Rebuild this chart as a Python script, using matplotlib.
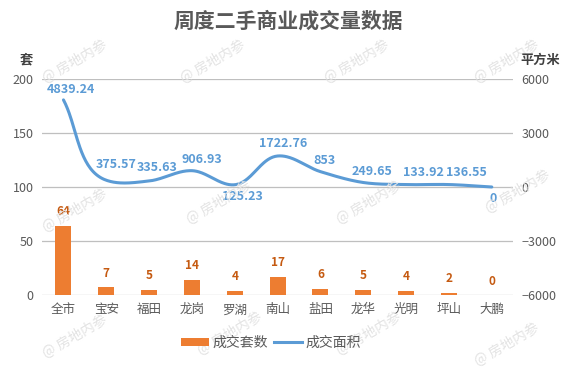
import numpy as np
import matplotlib
matplotlib.use('Agg')
import matplotlib.pyplot as plt
from matplotlib.lines import Line2D
from matplotlib.patches import Patch

plt.rcParams['font.family'] = ['Noto Sans CJK SC', 'DejaVu Sans']

districts = ['全市', '宝安', '福田', '龙岗', '罗湖', '南山', '盐田', '龙华', '光明', '坪山', '大鹏']
units = [64, 7, 5, 14, 4, 17, 6, 5, 4, 2, 0]
area = [4839.24, 375.57, 335.63, 906.93, 125.23, 1722.76, 853, 249.65, 133.92, 136.55, 0]
area_labels = ['4839.24', '375.57', '335.63', '906.93', '125.23', '1722.76', '853',
               '249.65', '133.92', '136.55', '0']

# label placement (pixels): x shift and vertical offset of the text centre
label_dx = [7, 10, 8, 10, 8, 5, 4, 9, 17, 17, 1]
label_dy = [10, 16, 13, 11, -12, 12, 11, 11, 12, 12, -12]

bar_color = '#ED7D31'
line_color = '#5B9BD5'
text_color = '#595959'
grid_color = '#BFBFBF'

W, H, DPI = 5.76, 3.83, 100
ax_rect = [0.073, 0.2298, 0.818, 0.5639]


def smooth(x, y, sx, sy, n=40):
    # smoothed line: bezier handles a third of the segment long, tangent
    # leaning towards the shorter neighbouring segment (pixel space)
    P = np.column_stack([np.asarray(x, float) * sx, np.asarray(y, float) * sy])
    m = len(P)
    seg_len = np.hypot(*(np.diff(P, axis=0).T))
    units_v = np.diff(P, axis=0) / seg_len[:, None]
    tang = np.zeros_like(P)
    tang[0] = units_v[0]
    tang[-1] = units_v[-1]
    for i in range(1, m - 1):
        d = units_v[i - 1] * seg_len[i] + units_v[i] * seg_len[i - 1]
        tang[i] = d / np.hypot(*d)
    t = np.linspace(0, 1, n)[:, None]
    out = []
    for i in range(m - 1):
        p1, p2 = P[i], P[i + 1]
        L = seg_len[i]
        c1 = p1 + tang[i] * L / 3
        c2 = p2 - tang[i + 1] * L / 3
        seg = (1 - t) ** 3 * p1 + 3 * (1 - t) ** 2 * t * c1 + 3 * (1 - t) * t ** 2 * c2 + t ** 3 * p2
        out.append(seg)
    out = np.vstack(out)
    return out[:, 0] / sx, out[:, 1] / sy


fig = plt.figure(figsize=(W, H), dpi=DPI)
ax = fig.add_axes(ax_rect)
x = np.arange(len(districts))

ax.bar(x, units, 0.375, color=bar_color, zorder=3)
for xi, v in zip(x, units):
    ax.annotate(str(v), (xi, v), xytext=(0, 10), textcoords='offset points',
                ha='center', va='center', fontsize=8.5, fontweight='bold',
                color='#C55A11', zorder=5)

ax.set_ylim(0, 200)
ax.set_yticks(np.arange(0, 201, 50))
ax.set_xlim(-0.5, len(districts) - 0.5)
ax.set_xticks(x)
ax.set_xticklabels(districts)
ax.yaxis.grid(True, color=grid_color, lw=0.9, zorder=0)
ax.tick_params(axis='both', length=0, labelsize=9, colors=text_color)
ax.tick_params(axis='x', pad=6)
ax.tick_params(axis='y', pad=6)
for s in ax.spines.values():
    s.set_visible(False)

ax2 = ax.twinx()
ax2.set_ylim(-6000, 6000)
ax2.set_yticks(np.arange(-6000, 6001, 3000))
ax2.tick_params(axis='y', length=0, labelsize=9, colors=text_color, pad=6)
for s in ax2.spines.values():
    s.set_visible(False)

px_per_x = ax_rect[2] * W * DPI / len(districts)
px_per_y = ax_rect[3] * H * DPI / 12000
cx, cy = smooth(x, area, px_per_x, px_per_y)
ax2.plot(cx, cy, color=line_color, lw=2.2, solid_capstyle='round', zorder=4)
for xi, v, lab, dx, dy in zip(x, area, area_labels, label_dx, label_dy):
    ax2.annotate(lab, (xi, v), xytext=(dx * 0.72, dy * 0.72),
                 textcoords='offset points', ha='center', va='center',
                 fontsize=9, fontweight='bold', color=line_color, zorder=6)

fig.text(0.5, 0.945, '周度二手商业成交量数据', ha='center', va='center',
         fontsize=15, fontweight='bold', color=text_color)
fig.text(0.045, 0.845, '套', ha='center', va='center', fontsize=9.5,
         fontweight='bold', color='#404040')
fig.text(0.938, 0.845, '平方米', ha='center', va='center', fontsize=9.5,
         fontweight='bold', color='#404040')

# watermark
for wx, wy in [(0.13, 0.84), (0.37, 0.84), (0.62, 0.84), (0.88, 0.84),
               (0.13, 0.45), (0.38, 0.47), (0.64, 0.47), (0.90, 0.50),
               (0.13, 0.12), (0.40, 0.13), (0.64, 0.13), (0.88, 0.10)]:
    fig.text(wx, wy, '@ 房地内参', rotation=30, ha='center', va='center',
             fontsize=10, color='#E3E3E3', zorder=0)

handles = [Patch(facecolor=bar_color, label='成交套数'),
           Line2D([0], [0], color=line_color, lw=2.2, label='成交面积')]
fig.legend(handles=handles, loc='center', bbox_to_anchor=(0.4705, 0.1045),
           ncol=2, frameon=False, fontsize=10, labelcolor=text_color,
           handlelength=2.0, handleheight=0.6, columnspacing=0.4,
           handletextpad=0.3, borderpad=0.2)

fig.savefig('out.png', dpi=DPI)
